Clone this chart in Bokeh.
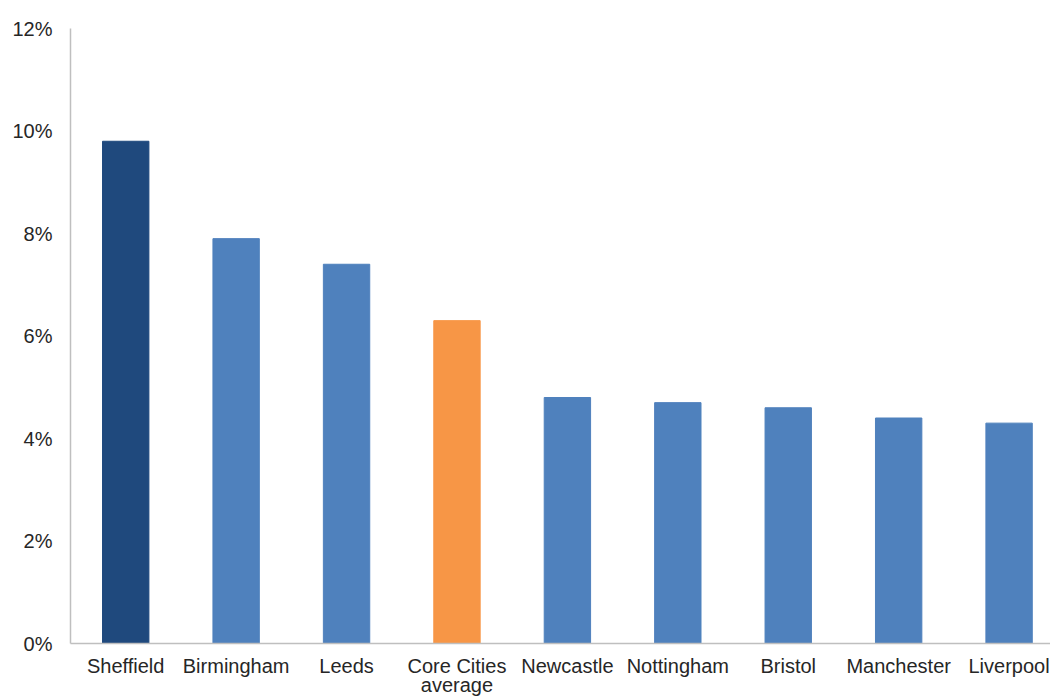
from bokeh.plotting import figure
from bokeh.models import ColumnDataSource, FixedTicker, Range1d, PrintfTickFormatter
from bokeh.embed import file_html
from bokeh.resources import INLINE

# Share of jobs (%) by city
cities = ["Sheffield", "Birmingham", "Leeds", "Core Cities\naverage", "Newcastle",
          "Nottingham", "Bristol", "Manchester", "Liverpool"]
values = [9.8, 7.9, 7.4, 6.3, 4.8, 4.7, 4.6, 4.4, 4.3]
colors = ["#1F497D", "#4F81BD", "#4F81BD", "#F79646", "#4F81BD",
          "#4F81BD", "#4F81BD", "#4F81BD", "#4F81BD"]
y_ticks = [0, 2, 4, 6, 8, 10, 12]

xs = [i + 0.5 for i in range(len(cities))]
src = ColumnDataSource(dict(x=xs, top=values, color=colors))

p = figure(width=1050, height=699, output_backend="svg", toolbar_location=None,
           x_range=Range1d(0, 8.875), y_range=Range1d(0, 12),
           min_border_left=70, min_border_right=0, min_border_top=28, min_border_bottom=56)
p.outline_line_color = None
p.grid.grid_line_color = None
p.background_fill_color = "white"
p.border_fill_color = "white"

p.vbar(x="x", top="top", width=0.42, bottom=0, color="color", source=src)

for ax in (p.xaxis, p.yaxis):
    ax.axis_line_color = "#BFBFBF"
    ax.axis_line_width = 1.5
    ax.major_tick_line_color = None
    ax.minor_tick_line_color = None
    ax.major_tick_out = 0
    ax.minor_tick_out = 0
    ax.major_label_text_font = "Liberation Sans"
    ax.major_label_text_font_size = "20px"
    ax.major_label_text_color = "#262626"

p.yaxis.ticker = FixedTicker(ticks=y_ticks)
p.yaxis.formatter = PrintfTickFormatter(format="%d%%")
p.yaxis.major_label_standoff = 18

p.xaxis.ticker = FixedTicker(ticks=xs)
p.xaxis.major_label_overrides = {x: c for x, c in zip(xs, cities)}
p.xaxis.major_label_standoff = 11
p.xaxis.major_label_text_line_height = 0.9

open("out.html", "w").write(file_html(p, INLINE))
